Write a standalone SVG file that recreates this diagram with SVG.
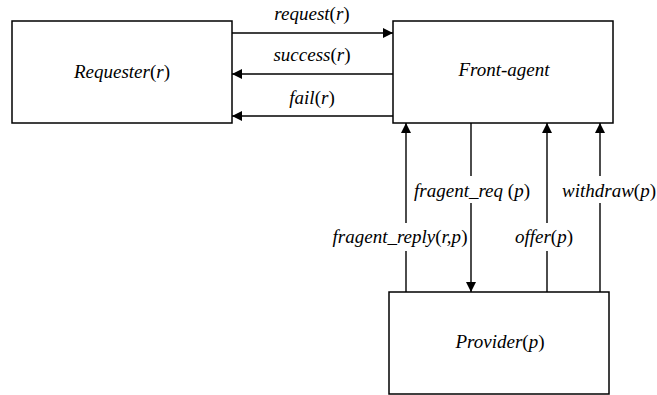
<svg xmlns="http://www.w3.org/2000/svg" width="657" height="395" viewBox="0 0 657 395">
<defs>
<style>
.box{fill:#fff;stroke:#000;stroke-width:1.5}
.ln{stroke:#000;stroke-width:1.4;fill:none}
text{font-family:"Liberation Serif","Times New Roman",serif;font-style:italic;font-size:19px;fill:#000;text-anchor:middle}
.u{font-style:normal}
.bg{fill:#fff}
</style>
<marker id="ah" viewBox="0 0 10 10" refX="10" refY="5" markerWidth="10" markerHeight="10" markerUnits="userSpaceOnUse" orient="auto">
<path d="M0,0 L10,5 L0,10 z" fill="#000"/>
</marker>
</defs>
<rect width="657" height="395" fill="#fff"/>
<g id="connectors">
<line class="ln" x1="232" y1="33" x2="393" y2="33" marker-end="url(#ah)"/>
<line class="ln" x1="393" y1="74" x2="232" y2="74" marker-end="url(#ah)"/>
<line class="ln" x1="393" y1="116" x2="232" y2="116" marker-end="url(#ah)"/>
<line class="ln" x1="406" y1="292" x2="406" y2="123" marker-end="url(#ah)"/>
<line class="ln" x1="471" y1="123" x2="471" y2="292" marker-end="url(#ah)"/>
<line class="ln" x1="547" y1="292" x2="547" y2="123" marker-end="url(#ah)"/>
<line class="ln" x1="600" y1="292" x2="600" y2="123" marker-end="url(#ah)"/>
</g>
<g id="requester">
<rect class="box" x="12" y="21" width="220" height="102"/>
<text x="122" y="78">Requester<tspan class="u">(</tspan>r<tspan class="u">)</tspan></text>
</g>
<g id="front-agent">
<rect class="box" x="393" y="21" width="220" height="102"/>
<text x="504" y="76">Front-agent</text>
</g>
<g id="provider">
<rect class="box" x="389" y="292" width="220" height="102"/>
<text x="500" y="348">Provider<tspan class="u">(</tspan>p<tspan class="u">)</tspan></text>
</g>
<g id="labels">
<text x="312" y="20">request<tspan class="u">(</tspan>r<tspan class="u">)</tspan></text>
<text x="312" y="61">success<tspan class="u">(</tspan>r<tspan class="u">)</tspan></text>
<text x="312" y="104">fail<tspan class="u">(</tspan>r<tspan class="u">)</tspan></text>
<rect class="bg" x="412" y="176" width="118" height="27"/>
<text x="472" y="197">fragent_req <tspan class="u">(</tspan>p<tspan class="u">)</tspan></text>
<rect class="bg" x="562" y="176" width="92" height="27"/>
<text x="609" y="197">withdraw<tspan class="u">(</tspan>p<tspan class="u">)</tspan></text>
<rect class="bg" x="330" y="223" width="140" height="28"/>
<text x="400" y="243">fragent_reply<tspan class="u">(</tspan>r,p<tspan class="u">)</tspan></text>
<rect class="bg" x="512" y="223" width="64" height="28"/>
<text x="544" y="243">offer<tspan class="u">(</tspan>p<tspan class="u">)</tspan></text>
</g>
</svg>
